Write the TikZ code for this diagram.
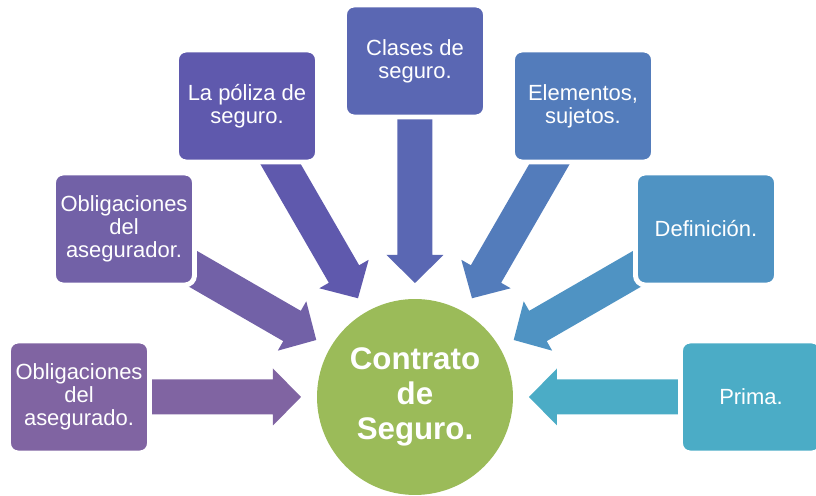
\documentclass[tikz,border=0pt]{standalone}
\usepackage{fontspec}
\setmainfont{Liberation Sans}
\usepackage{tikz}

\definecolor{cAsegurado}{HTML}{8064A2}
\definecolor{cAsegurador}{HTML}{7261A7}
\definecolor{cPoliza}{HTML}{5F59AD}
\definecolor{cClases}{HTML}{5A67B3}
\definecolor{cElementos}{HTML}{537CBB}
\definecolor{cDefinicion}{HTML}{4F93C3}
\definecolor{cPrima}{HTML}{4BACC6}
\definecolor{cContrato}{HTML}{9BBB59}

\begin{document}
\begin{tikzpicture}[x=0.02cm,y=0.02cm,
	topic/.style={draw=white,line width=2.8pt,rounded corners=5.4pt,minimum width=2.82cm,minimum height=2.24cm,inner sep=1pt,align=center,text=white,font=\fontsize{12.5}{13.2}\selectfont},
	hub/.style={circle,fill=cContrato,minimum size=3.92cm,inner sep=0pt,align=center,text=white,font=\fontsize{17.8}{19.8}\selectfont\bfseries}]
			% Fix the page size
			\useasboundingbox (-415,-99) rectangle (401,397);
			
			% Draw the contract circle
			\node[hub] (contrato) at (0,0) {Contrato\\de\\Seguro.};
			
			% Draw block arrows and topic boxes (white rim of the box cuts the arrow tail)
			\foreach \nm/\ang/\col/\txt in {
				asegurado/180/cAsegurado/{Obligaciones\\del\\asegurado.},
				asegurador/150/cAsegurador/{Obligaciones\\del\\asegurador.},
				poliza/120/cPoliza/{La póliza de\\seguro.},
				clases/90/cClases/{Clases de\\seguro.},
				elementos/60/cElementos/{Elementos,\\sujetos.},
				definicion/30/cDefinicion/{Definición.},
				prima/0/cPrima/{Prima.}}
			{
				\fill[\col,rotate=\ang] (300,17.5) -- (142,17.5) -- (142,28.5) -- (114,0) -- (142,-28.5) -- (142,-17.5) -- (300,-17.5) -- cycle;
				\node[topic,fill=\col] (\nm) at (\ang:336) {\txt};
			}
		\end{tikzpicture}
\end{document}
